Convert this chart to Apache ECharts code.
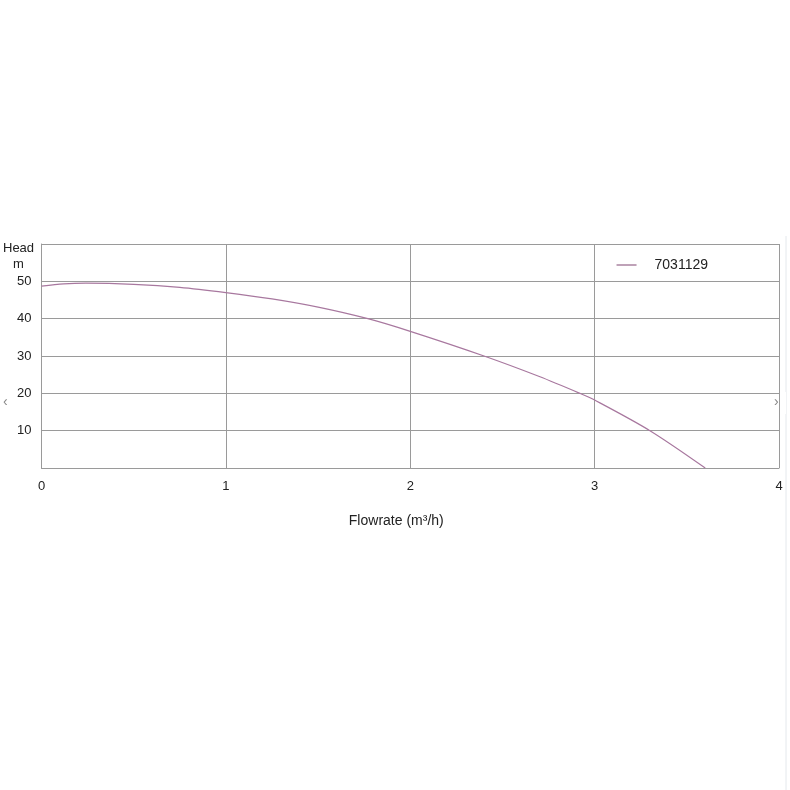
<!DOCTYPE html>
<html>
<head>
<meta charset="utf-8">
<script src="https://cdn.jsdelivr.net/npm/echarts@6/dist/echarts.min.js"></script>
<style>
  html, body { margin: 0; padding: 0; background: #fff; }
  #chart { width: 790px; height: 790px; }
</style>
</head>
<body>
<div id="chart"></div>
<script>
const seriesName = '7031129';
const flowrate = [0, 0.12, 0.24, 0.5, 0.75, 1, 1.25, 1.5, 1.77, 2, 2.4, 2.7, 2.92, 3, 3.3, 3.6];
const head = [48.7, 49.3, 49.5, 49.2, 48.4, 47.0, 45.3, 43.1, 40, 36.6, 30, 24.5, 20, 18.2, 10, 0];
const xTicks = [0, 1, 2, 3, 4];
const yTicks = [10, 20, 30, 40, 50];

const chart = echarts.init(document.getElementById('chart'));
const font = 'Liberation Sans, Arial, sans-serif';
const gridColor = '#9a9a9a';

const option = {
  animation: false,
  textStyle: { fontFamily: font },
  grid: { left: 39, right: 11, top: 244, bottom: 322, containLabel: false },
  legend: {
    right: 77,
    top: 253,
    itemWidth: 20,
    itemHeight: 2,
    icon: 'rect',
    textStyle: { fontSize: 14, color: '#222', fontFamily: font, padding: [0, 0, 0, 13] },
    data: [seriesName]
  },
  xAxis: {
    type: 'value',
    min: 0,
    max: 4,
    interval: 1,
    name: 'Flowrate (m³/h)',
    nameLocation: 'middle',
    nameGap: 46,
    nameTextStyle: { fontSize: 14, color: '#222', padding: [0, 28, 0, 0] },
    axisLine: { show: true, lineStyle: { color: gridColor } },
    axisTick: { show: false },
    axisLabel: { fontSize: 13, color: '#222', margin: 12,
      formatter: v => xTicks.includes(v) ? String(v) : '' },
    splitLine: { show: true, lineStyle: { color: gridColor, width: 1 } }
  },
  yAxis: {
    type: 'value',
    min: 0,
    max: 60,
    interval: 10,
    name: 'Head\nm',
    nameLocation: 'end',
    nameGap: -28,
    nameTextStyle: { fontSize: 13, color: '#222', align: 'center', padding: [0, 0, 0, -46], lineHeight: 16 },
    axisLine: { show: true, lineStyle: { color: gridColor } },
    axisTick: { show: false },
    axisLabel: { fontSize: 13, color: '#222', margin: 10,
      formatter: v => yTicks.includes(v) ? String(v) : '' },
    splitLine: { show: true, lineStyle: { color: gridColor, width: 1 } }
  },
  series: [{
    name: seriesName,
    type: 'line',
    smooth: 0.3,
    showSymbol: false,
    data: flowrate.map((f, i) => [f, head[i]]),
    lineStyle: { color: '#a8789f', width: 1.2 },
    itemStyle: { color: '#bfa2b8' }
  }],
  graphic: [
    { type: 'line', shape: { x1: 786, y1: 236, x2: 786, y2: 790 }, style: { stroke: '#e4e8ec', lineWidth: 1 } },
    { type: 'rect', shape: { x: 772, y: 392, width: 14, height: 22 }, style: { fill: '#fff' } },
    { type: 'text', left: 3, top: 395, style: { text: '‹', fontSize: 14, fill: '#888', fontFamily: font } },
    { type: 'text', left: 774, top: 395, style: { text: '›', fontSize: 14, fill: '#888', fontFamily: font } }
  ]
};

chart.setOption(option);
window.addEventListener('resize', () => chart.resize());
</script>
</body>
</html>
